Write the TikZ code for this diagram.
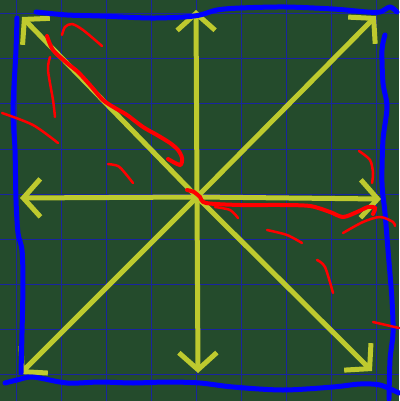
\documentclass[tikz,border=0pt]{standalone}
\usetikzlibrary{arrows.meta}
\definecolor{board}{RGB}{36,75,44}
\definecolor{gridblue}{RGB}{24,36,160}
\definecolor{chalk}{RGB}{190,202,46}

\begin{document}
\begin{tikzpicture}[
    x=1pt, y=-1pt,
    gridline/.style={draw=gridblue, line width=1pt},
    ray/.style={draw=chalk, line width=5pt, -{Straight Barb[length=17pt, width=38pt]}},
    frame/.style={draw=blue, line width=5pt, line cap=round, line join=round},
    scribble/.style={draw=red, line width=2.5pt, line cap=round}
]
    \fill[board] (0,0) rectangle (399,401);
    \useasboundingbox (0,0) rectangle (399,401);

    % grid
    \foreach \g in {16,61,...,376} \draw[gridline] (\g,0) -- (\g,401);
    \foreach \g in {14,59,...,374} \draw[gridline] (0,\g) -- (399,\g);

    % rays from the centre
    \coordinate (c) at (197,197);
    \coordinate (n) at (196,10);
    \coordinate (s) at (198,373);
    \coordinate (w) at (20,198);
    \coordinate (e) at (381,199);
    \coordinate (nw) at (22,17);
    \coordinate (ne) at (376,16);
    \coordinate (sw) at (20,374);
    \coordinate (se) at (372,371);
    \foreach \d in {n,s,w,e,nw,ne,sw,se} \draw[ray] (c) -- (\d);

    % blue frame
    \draw[frame] plot[smooth] coordinates {(36,12) (67,15) (100,16) (150,18) (183,17) (200,15) (217,10) (240,8) (285,7) (333,9) (367,12) (380,12) (390,7) (397,12)};
    \draw[frame] plot[smooth] coordinates {(17,18) (16,50) (13,110) (15,150) (16,200) (18,233) (22,250) (23,283) (22,333) (21,373)};
    \draw[frame] plot[smooth] coordinates {(5,383) (17,380) (33,377) (67,383) (100,382) (133,383) (167,382) (200,383) (233,387) (283,390) (333,387) (360,384) (380,385) (399,393)};
    \draw[frame] plot[smooth] coordinates {(385,35) (382,50) (383,83) (387,107) (383,140) (382,183) (385,213) (388,250) (392,300) (393,333) (390,360) (389,399)};

    % red scribbles
    \draw[scribble, line width=4pt] plot[smooth] coordinates {(47,36) (53,50) (67,63) (78,72) (90,85) (103,100) (115,108) (127,115) (143,127) (157,135) (170,143) (178,150) (182,158) (180,165) (168,159)};
    \draw[scribble, line width=4pt] plot[smooth] coordinates {(187,190) (194,192) (200,197) (206,203) (240,205) (280,205) (310,206) (330,212) (343,217) (357,212) (368,207) (375,208) (373,214)};
    \draw[scribble] plot[smooth] coordinates {(62,35) (65,27) (72,24) (83,30) (102,46)};
    \draw[scribble] plot[smooth] coordinates {(50,57) (48,70) (53,100) (55,117)};
    \draw[scribble] plot[smooth] coordinates {(2,113) (33,125) (58,143)};
    \draw[scribble] plot[smooth] coordinates {(108,164) (118,166) (125,173) (133,183)};
    \draw[scribble] plot[smooth] coordinates {(215,207) (230,210) (238,218)};
    \draw[scribble] plot[smooth] coordinates {(267,230) (287,235) (302,243)};
    \draw[scribble] plot[smooth] coordinates {(317,260) (325,267) (333,293)};
    \draw[scribble] plot[smooth] coordinates {(343,233) (363,222) (380,217) (393,222) (395,226)};
    \draw[scribble] plot[smooth] coordinates {(359,151) (370,160) (373,173) (372,183)};
    \draw[scribble] plot[smooth] coordinates {(373,322) (399,328)};
\end{tikzpicture}
\end{document}
